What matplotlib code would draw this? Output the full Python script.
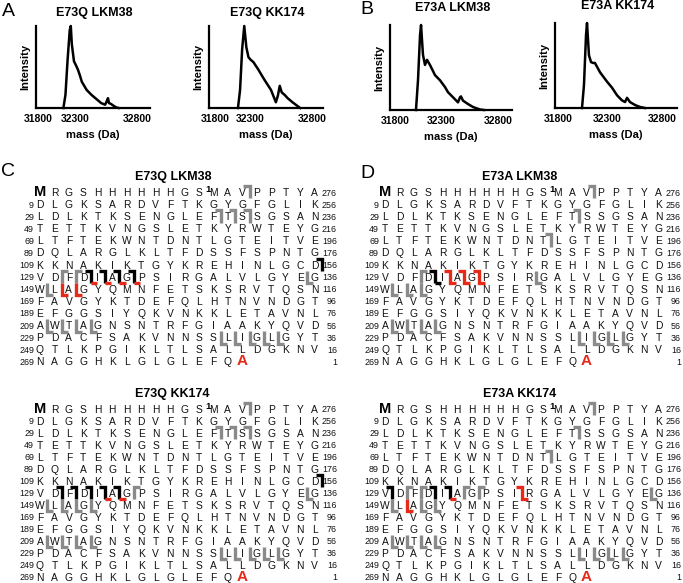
import numpy as np
import matplotlib
matplotlib.use("Agg")
import matplotlib.pyplot as plt

plt.rcParams['font.family'] = ['Liberation Sans', 'DejaVu Sans']

# ---------------- data ----------------
panel_letters = ["A", "B", "C", "D"]
spec_titles = ["E73Q LKM38", "E73Q KK174", "E73A LKM38", "E73A KK174"]
mass_ticks = [31800, 32300, 32800]
mass_label = "mass (Da)"
int_label = "Intensity"

e73q_lkm38_mass = [32143, 32171, 32200, 32229, 32243, 32257, 32286, 32308, 32323, 32339, 32355,
                   32394, 32433, 32472, 32511, 32543, 32558, 32566, 32574, 32590, 32613, 32636, 32652]
e73q_lkm38_int = [0, 0.16, 0.59, 0.95, 1.0, 0.78, 0.57, 0.52, 0.47, 0.40, 0.32,
                  0.22, 0.16, 0.11, 0.06, 0.04, 0.09, 0.12, 0.06, 0.05, 0.025, 0.005, 0]

e73q_kk174_mass = [32128, 32158, 32188, 32218, 32248, 32278, 32304, 32327, 32366, 32413, 32468,
                   32507, 32523, 32538, 32554, 32577, 32601, 32640, 32679, 32702]
e73q_kk174_int = [0, 0.22, 0.72, 1.0, 0.74, 0.62, 0.59, 0.56, 0.47, 0.35, 0.22,
                  0.07, 0.15, 0.27, 0.19, 0.16, 0.12, 0.07, 0.025, 0]

e73a_lkm38_mass = [32028, 32050, 32072, 32083, 32104, 32126, 32148, 32180, 32235, 32289, 32335,
                   32361, 32405, 32449, 32467, 32475, 32493, 32537, 32581, 32642, 32677]
e73a_lkm38_int = [0, 0.35, 0.88, 1.0, 0.65, 0.53, 0.59, 0.53, 0.41, 0.35, 0.27,
                  0.21, 0.15, 0.09, 0.15, 0.16, 0.11, 0.07, 0.035, 0.006, 0]

e73a_kk174_mass = [32045, 32065, 32086, 32096, 32116, 32137, 32157, 32177, 32229, 32300, 32345,
                   32391, 32436, 32464, 32482, 32509, 32555, 32600, 32645]
e73a_kk174_int = [0, 0.27, 0.86, 1.0, 0.62, 0.54, 0.53, 0.53, 0.42, 0.31, 0.24,
                  0.15, 0.09, 0.07, 0.12, 0.07, 0.035, 0.012, 0]

seq_rows = ["MRGSHHHHHHGSMAVPPTYA", "DLGKSARDVFTKGYGFGLIK", "LDLKTKSENGLEFTSSGSAN",
            "TETTKVNGSLETKYRWTEYG", "LTFTEKWNTDNTLGTEITVE", "DQLARGLKLTFDSSFSPNTG",
            "KKNAKIKTGYKREHINLGCD", "VDFDIAGPSIRGALVLGYEG", "WLAGYQMNFETSKSRVTQSN",
            "FAVGYKTDEFQLHTNVNDGT", "EFGGSIYQKVNKKLETAVNL", "AWTAGNSNTRFGIAAKYQVD",
            "PDACFSAKVNNSSLIGLGYT", "QTLKPGIKLTLSALLDGKNV", "NAGGHKLGLGLEFQA"]
left_numbers = ["", "9", "29", "49", "69", "89", "109", "129", "149", "169",
                "189", "209", "229", "249", "269"]
right_numbers = ["276", "256", "236", "216", "196", "176", "156", "136", "116", "96",
                 "76", "56", "36", "16", "1"]

# markers: (row, column before the cut, shape, colour key)
marks_e73q_lkm38 = [(0, 14, '7', 'g'), (2, 12, '7', 'g'), (2, 13, '7', 'g'), (2, 14, '7', 'g'),
                    (6, 19, '7', 'k'), (7, 1, 'G', 'g'), (7, 2, 'G', 'g'),
                    (7, 3, '7', 'k'), (7, 4, '7', 'k'), (7, 5, '7', 'k'), (7, 6, '7', 'k'),
                    (7, 3, '_', 'r'), (7, 4, '_', 'r'), (7, 5, '_', 'r'), (7, 6, '_', 'r'),
                    (7, 18, 'L', 'g'), (8, 0, 'L', 'g'), (8, 1, 'L', 'r'), (8, 2, 'L', 'r'),
                    (11, 0, 'L', 'g'), (11, 1, 'L', 'g'), (11, 2, 'L', 'g'), (11, 3, 'L', 'g'),
                    (12, 12, 'L', 'g'), (12, 13, 'L', 'g'), (12, 14, 'L', 'g'), (12, 15, 'L', 'g'),
                    (12, 16, 'L', 'g')]
marks_e73q_kk174 = [(0, 14, '7', 'g'), (2, 12, '7', 'g'), (2, 13, '7', 'g'), (2, 14, '7', 'g'),
                    (6, 19, '7', 'k'), (7, 1, '7', 'k'), (7, 2, '7', 'k'), (7, 3, '7', 'k'),
                    (7, 4, '7', 'k'), (7, 5, '7', 'k'), (7, 4, '_', 'r'), (7, 5, '_', 'r'),
                    (7, 6, 'G', 'g'), (7, 18, 'L', 'g'),
                    (8, 0, 'L', 'g'), (8, 1, 'L', 'g'), (8, 2, 'L', 'g'), (8, 3, 'L', 'g'),
                    (11, 0, 'L', 'g'), (11, 1, 'L', 'g'), (11, 2, 'L', 'g'), (11, 3, 'L', 'g'),
                    (12, 12, 'L', 'g'), (12, 13, 'L', 'g'), (12, 14, 'L', 'g'), (12, 15, 'L', 'g'),
                    (12, 16, 'L', 'g')]
marks_e73a_lkm38 = [(0, 14, '7', 'g'), (2, 13, '7', 'g'), (4, 11, '7', 'g'),
                    (7, 2, 'G', 'g'), (7, 3, '7', 'k'), (7, 3, '_', 'k'),
                    (7, 4, 'Z', 'r'), (7, 5, 'Z', 'r'), (7, 6, 'Z', 'r'), (7, 10, 'L', 'g'),
                    (8, 0, 'L', 'g'), (8, 1, 'L', 'g'), (8, 2, 'L', 'g'),
                    (11, 0, 'L', 'g'), (11, 1, 'L', 'g'), (11, 2, 'L', 'g'), (11, 3, 'L', 'g'),
                    (12, 13, 'L', 'g'), (12, 14, 'L', 'g'), (12, 15, 'L', 'g'), (12, 16, 'L', 'g')]
marks_e73a_kk174 = [(0, 14, '7', 'g'), (2, 13, '7', 'g'), (4, 11, '7', 'g'),
                    (7, 0, '7', 'k'), (7, 1, 'G', 'g'), (7, 2, 'G', 'g'),
                    (7, 3, '7', 'k'), (7, 4, '7', 'k'), (7, 4, '_', 'r'),
                    (7, 5, 'G', 'g'), (7, 6, 'G', 'g'), (7, 9, 'Z', 'r'), (7, 18, 'L', 'g'),
                    (8, 0, 'L', 'g'), (8, 1, 'L', 'r'), (8, 2, 'L', 'g'), (8, 3, 'L', 'g'),
                    (11, 0, 'L', 'g'), (11, 1, 'L', 'g'), (11, 2, 'L', 'g'), (11, 3, 'L', 'g'),
                    (12, 13, 'L', 'g'), (12, 14, 'L', 'g'), (12, 15, 'L', 'g'), (12, 16, 'L', 'g')]

# ---------------- styling / layout ----------------
W, H = 683, 583
COL = {'g': '#8a8a8a', 'k': '#000000', 'r': '#e62a1a'}
fig = plt.figure(figsize=(W / 100, H / 100), dpi=100)
fig.patch.set_facecolor('white')


def px_axes(x0, y0, x1, y1):
    return fig.add_axes([x0 / W, 1 - y1 / H, (x1 - x0) / W, (y1 - y0) / H])


def ftext(x, y, s, **kw):
    fig.text(x / W, 1 - y / H, s, **kw)


# spectra: (axis box px, tick px offsets from left edge, title px pos)
spec_layout = [((36, 26, 150, 108), (2, 39, 101), (94, 13)),
               ((209, 26, 323, 108), (6, 41, 103.5), (267, 13)),
               ((390, 25, 512, 110), (5, 51, 108), (453, 8)),
               ((555, 23, 677, 108), (3, 52, 107), (618, 6))]
spec_data = [(e73q_lkm38_mass, e73q_lkm38_int), (e73q_kk174_mass, e73q_kk174_int),
             (e73a_lkm38_mass, e73a_lkm38_int), (e73a_kk174_mass, e73a_kk174_int)]


def make_scale(t):
    """piecewise-linear mass axis reproducing the printed tick spacing"""
    t1, t2, t3 = t
    m1, m2, m3 = mass_ticks
    s1 = (t2 - t1) / (m2 - m1)
    s2 = (t3 - t2) / (m3 - m2)

    def fwd(m):
        m = np.asarray(m, dtype=float)
        return np.where(m <= m2, t1 + (m - m1) * s1, t2 + (m - m2) * s2)

    def inv(v):
        v = np.asarray(v, dtype=float)
        return np.where(v <= t2, m1 + (v - t1) / s1, m2 + (v - t2) / s2)
    return fwd, inv


for i, ((box, ticks, tpos), (mass, inten)) in enumerate(zip(spec_layout, spec_data)):
    ax = px_axes(*box)
    fwd, inv = make_scale(ticks)
    ax.set_xscale('function', functions=(fwd, inv))
    ax.plot(mass, inten, color='black', lw=1.8, solid_joinstyle='round', clip_on=False, zorder=3)
    ax.set_xlim(float(inv(0)), float(inv(box[2] - box[0])))
    ax.set_ylim(0, 1.0)
    for s in ['top', 'right']:
        ax.spines[s].set_visible(False)
    for s in ['left', 'bottom']:
        ax.spines[s].set_linewidth(1.6)
    ax.set_xticks(mass_ticks)
    ax.set_xticklabels([str(m) for m in mass_ticks], fontsize=7.5, fontweight='bold')
    ax.xaxis.set_minor_locator(matplotlib.ticker.NullLocator())
    ax.tick_params(axis='x', length=0, pad=4)
    ax.set_yticks([])
    ax.set_xlabel(mass_label, fontsize=8, fontweight='bold', labelpad=5)
    ax.set_ylabel(int_label, fontsize=8, fontweight='bold', labelpad=4)
    ftext(tpos[0], tpos[1], spec_titles[i], fontsize=9, fontweight='bold', ha='center', va='center')

for (x, y), s in zip([(8, 12), (367, 10), (8, 172), (367, 174)], panel_letters):
    ftext(x, y, s, fontsize=14, ha='center', va='center')

# sequence panels: (col0 px, col spacing, row0 px, row spacing, title px, marks)
seq_layout = [(40, 14.45, 193, 12.1, (173, 177), spec_titles[0], marks_e73q_lkm38),
              (40, 14.45, 410, 12.0, (172, 394), spec_titles[1], marks_e73q_kk174),
              (385, 14.4, 193, 12.1, (520, 177), spec_titles[2], marks_e73a_lkm38),
              (385, 14.4, 410, 12.0, (520, 394), spec_titles[3], marks_e73a_kk174)]

ARM = 0.42
TOP = -0.58
BOT = 0.45

for c0, dx, r0, dy, tpos, title, marks in seq_layout:
    ax = px_axes(c0 - dx / 2, r0 - dy / 2, c0 + 19.5 * dx, r0 + 14.5 * dy)
    ax.set_xlim(-0.5, 19.5)
    ax.set_ylim(14.5, -0.5)
    ax.axis('off')
    ftext(tpos[0], tpos[1], title, fontsize=9, fontweight='bold', ha='center', va='center')
    for r, row in enumerate(seq_rows):
        for c, ch in enumerate(row):
            if r == 0 and c == 0:
                ax.text(c, r - 0.05, ch, fontsize=10.5, fontweight='bold', ha='center', va='center')
            elif r == len(seq_rows) - 1 and c == len(row) - 1:
                ax.text(c, r - 0.1, ch, fontsize=11, fontweight='bold', color=COL['r'],
                        ha='center', va='center')
            else:
                ax.text(c, r, ch, fontsize=7.4, ha='center', va='center', color='#111111')
        if left_numbers[r]:
            ax.text(-0.42, r, left_numbers[r], fontsize=6.4, ha='right', va='center', color='#111111')
        ax.text(20.55, r, right_numbers[r], fontsize=6.4, ha='right', va='center', color='#111111')
    ax.text(11.62, -0.3, "1", fontsize=6.8, fontweight='bold', ha='center', va='center')
    for (r, c, shape, ck) in marks:
        xg = c + 0.5
        yt, yb = r + TOP, r + BOT
        if shape == '7':
            xs, ys = [xg - ARM, xg, xg], [yt, yt, yb]
        elif shape == 'L':
            xs, ys = [xg, xg, xg + ARM], [yt, yb, yb]
        elif shape == 'G':
            xs, ys = [xg + ARM, xg, xg], [yt, yt, yb]
        elif shape == '_':
            xs, ys = [xg, xg + ARM], [yb, yb]
        else:  # 'Z'
            xs, ys = [xg - ARM, xg, xg, xg + ARM], [yt, yt, yb, yb]
        ax.plot(xs, ys, color=COL[ck], lw=2.4, solid_joinstyle='miter',
                solid_capstyle='butt', clip_on=False, zorder=4)

fig.savefig("out.png", dpi=100, facecolor='white')
